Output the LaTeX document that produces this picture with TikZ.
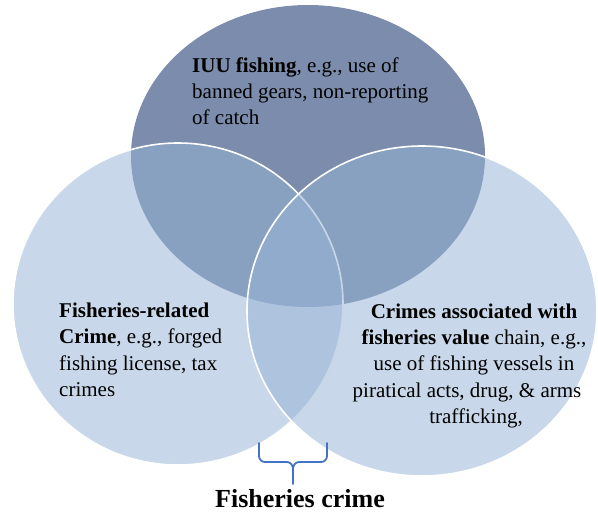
\documentclass[tikz,border=0pt]{standalone}
\usepackage{fontspec}
\setmainfont{Liberation Serif}
\definecolor{topc}{RGB}{123,140,172}
\definecolor{circc}{RGB}{151,180,213}
\definecolor{bracec}{RGB}{68,114,196}
\tikzset{
  txt/.style={inner sep=0pt, font=\fontsize{21}{26}\selectfont},
  ttl/.style={inner sep=0pt, font=\fontsize{26}{30}\selectfont\bfseries},
  setfill/.style={fill=circc, fill opacity=0.53, draw=white, line width=1.6pt},
  bracepath/.style={draw=bracec, line width=1.8pt, line cap=round, line join=round},
}
\begin{document}
\begin{tikzpicture}[x=1pt,y=-1pt]
\useasboundingbox (0,0) rectangle (598,515);
% sets
\path[fill=topc] (308,156) ellipse [x radius=177pt, y radius=151pt];
\path[setfill] (178,304) ellipse [x radius=165pt, y radius=161pt];
\path[setfill] (422,311) ellipse [x radius=175pt, y radius=165pt];
% top text
\node[txt, anchor=base west] (t1) at (192,72) {\textbf{IUU fishing}, e.g., use of};
\node[txt, anchor=base west] (t2) at (192,98) {banned gears, non-reporting};
\node[txt, anchor=base west] (t3) at (192,124) {of catch};
% left text
\node[txt, anchor=base west] (l1) at (59,317) {\textbf{Fisheries-related}};
\node[txt, anchor=base west] (l2) at (59,343) {\textbf{Crime}, e.g., forged};
\node[txt, anchor=base west] (l3) at (59,370) {fishing license, tax};
\node[txt, anchor=base west] (l4) at (59,396) {crimes};
% right text
\node[txt, anchor=base] (r1) at (474,318) {\textbf{Crimes associated with}};
\node[txt, anchor=base] (r2) at (474,344) {\textbf{fisheries value} chain, e.g.,};
\node[txt, anchor=base] (r3) at (474,370) {use of fishing vessels in};
\node[txt, anchor=base] (r4) at (467,397) {piratical acts, drug, \& arms};
\node[txt, anchor=base] (r5) at (476,423) {trafficking,};
% brace
\coordinate (bl) at (259,443);
\coordinate (br) at (327,443);
\coordinate (bm) at (293,469);
\coordinate (btip) at (293,484);
\path[bracepath] (bl) -- (259,456) to[out=-90,in=180] (265,462) -- (287,462) to[out=0,in=90] (bm) -- (btip);
\path[bracepath] (br) -- (327,456) to[out=-90,in=0] (321,462) -- (299,462) to[out=180,in=90] (bm);
% title
\node[ttl, anchor=base] (title) at (300,507) {Fisheries crime};
\end{tikzpicture}
\end{document}
